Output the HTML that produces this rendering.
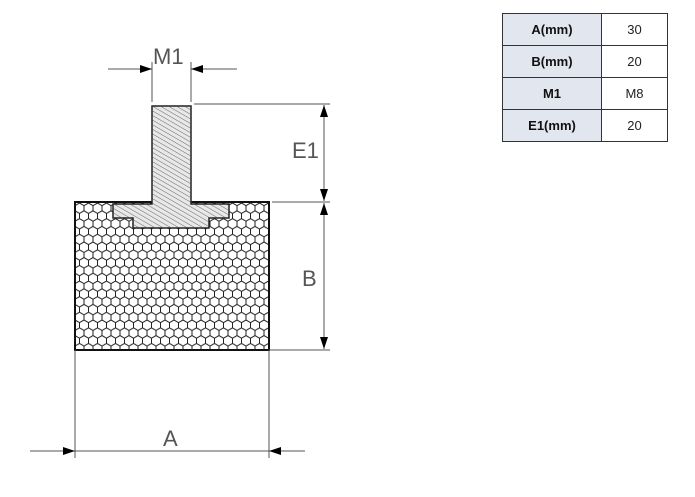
<!DOCTYPE html>
<html><head><style>
body{margin:0;background:#fff;width:695px;height:497px;overflow:hidden;font-family:"Liberation Sans",sans-serif}
table{position:absolute;left:502px;top:13px;border-collapse:collapse;width:166px}
td{border:1px solid #333;height:31px;padding:0;text-align:center;font-size:13px;color:#222}
td.h{background:#e2e6ee;font-weight:bold;width:98px;color:#111}
</style></head><body>
<svg width="695" height="497" style="position:absolute;left:0;top:0">
<defs>
<pattern id="hx" width="9" height="15.6" patternUnits="userSpaceOnUse" x="75" y="203">
<path d="M4.5,0 L9,2.6 L9,7.8 L4.5,10.4 L0,7.8 L0,2.6 Z M4.5,10.4 L4.5,15.6" fill="none" stroke="#222" stroke-width="1"/>
</pattern>
<pattern id="ht" width="4" height="4" patternUnits="userSpaceOnUse" patternTransform="rotate(-60)">
<line x1="0" y1="0" x2="0" y2="4" stroke="#444" stroke-width="0.8"/>
</pattern>
<marker id="ar" markerWidth="12" markerHeight="8" refX="12" refY="4" orient="auto" markerUnits="userSpaceOnUse"><path d="M0,0 L12,4 L0,8 Z" fill="#000"/></marker>
</defs>
<rect x="75" y="202" width="194" height="148" fill="#fff"/>
<rect x="75" y="202" width="194" height="148" fill="url(#hx)" stroke="#111" stroke-width="2"/>
<path d="M152,106 L191,106 L191,204 L229,204 L229,218 L209,218 L209,228 L133,228 L133,218 L113,218 L113,204 L152,204 Z" fill="#e8e8e8" stroke="#222" stroke-width="1.5"/>
<path d="M152,106 L191,106 L191,204 L229,204 L229,218 L209,218 L209,228 L133,228 L133,218 L113,218 L113,204 L152,204 Z" fill="url(#ht)"/>
<g stroke="#555" stroke-width="1">
<line x1="152" y1="62" x2="152" y2="102"/><line x1="191" y1="62" x2="191" y2="102"/>
<line x1="108" y1="69" x2="152" y2="69" marker-end="url(#ar)"/>
<line x1="237" y1="69" x2="191" y2="69" marker-end="url(#ar)"/>
<line x1="194" y1="104" x2="330" y2="104"/><line x1="272" y1="202" x2="330" y2="202"/>
<line x1="269" y1="350" x2="330" y2="350"/>
<line x1="324" y1="155" x2="324" y2="105" marker-end="url(#ar)"/>
<line x1="324" y1="155" x2="324" y2="201" marker-end="url(#ar)"/>
<line x1="324" y1="275" x2="324" y2="203" marker-end="url(#ar)"/>
<line x1="324" y1="275" x2="324" y2="349" marker-end="url(#ar)"/>
<line x1="75" y1="350" x2="75" y2="458"/><line x1="269" y1="350" x2="269" y2="458"/>
<line x1="30" y1="451" x2="75" y2="451" marker-end="url(#ar)"/>
<line x1="305" y1="451" x2="269" y2="451" marker-end="url(#ar)"/>
<line x1="75" y1="451" x2="269" y2="451"/>
</g>
<g font-family="Liberation Sans,sans-serif" font-size="22" fill="#555">
<text x="153" y="64">M1</text>
<text x="292" y="158">E1</text>
<text x="302" y="286">B</text>
<text x="163" y="446">A</text>
</g>
</svg>
<table>
<tr><td class="h">A(mm)</td><td>30</td></tr>
<tr><td class="h">B(mm)</td><td>20</td></tr>
<tr><td class="h">M1</td><td>M8</td></tr>
<tr><td class="h">E1(mm)</td><td>20</td></tr>
</table>
</body></html>
